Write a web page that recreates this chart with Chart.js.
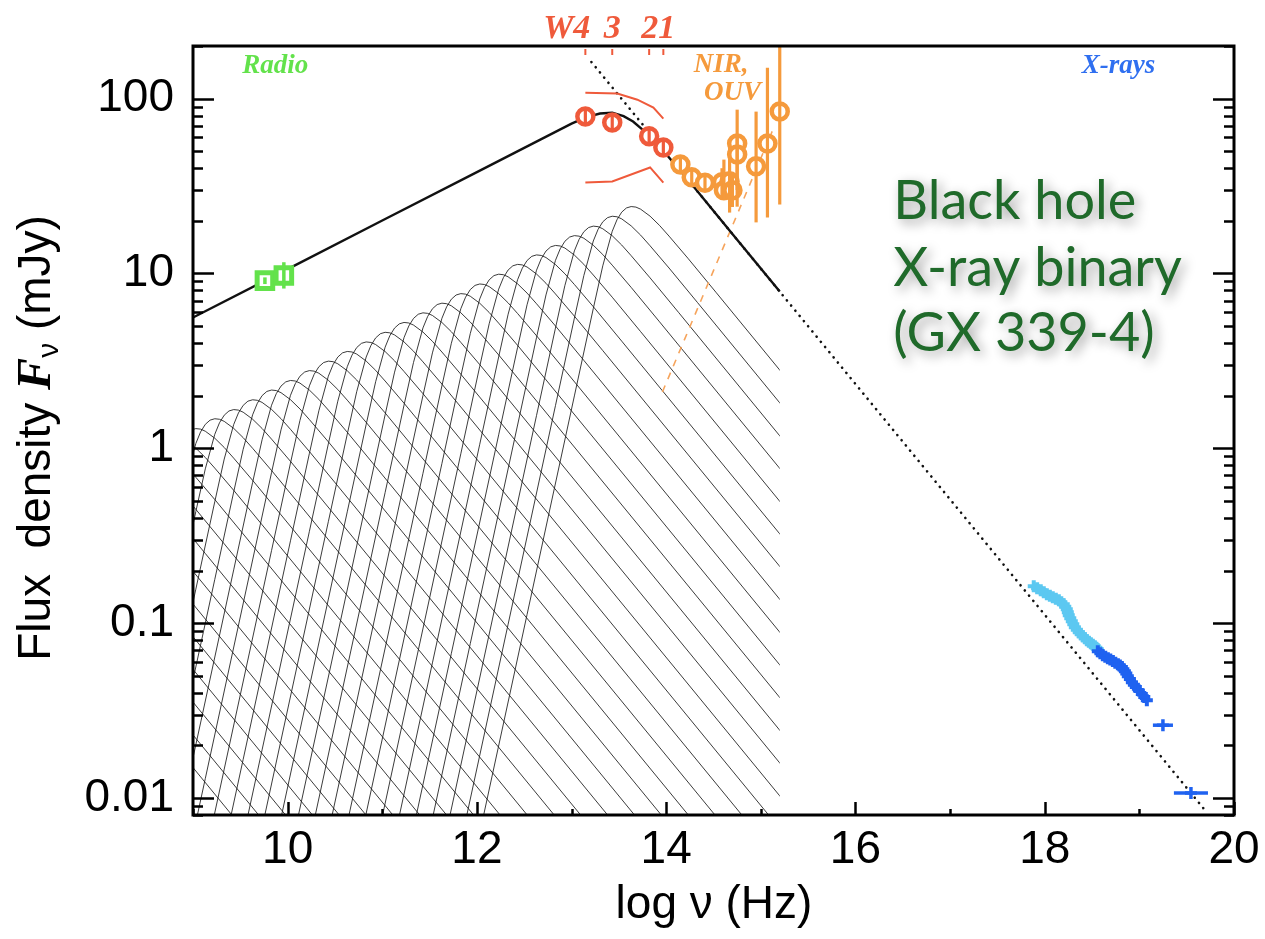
<!DOCTYPE html>
<html>
<head>
<meta charset="utf-8">
<title>GX 339-4 broadband spectrum</title>
<script src="https://cdn.jsdelivr.net/npm/chart.js@4.4.1/dist/chart.umd.min.js"></script>
<style>
  html, body { margin: 0; padding: 0; background: #ffffff; }
  canvas { display: block; }
</style>
</head>
<body>
<canvas id="sed" width="1265" height="939"></canvas>
<script>
// ---- Axis ranges (x: log frequency in Hz, y: flux density in mJy) ----
const X_MIN = 9, X_MAX = 20;
const Y_MIN = 0.008, Y_MAX = 200;
const xTickValues = [10, 12, 14, 16, 18, 20];
const xTickLabels = ['10', '12', '14', '16', '18', '20'];
const yTickValues = [0.01, 0.1, 1, 10, 100];
const yTickLabels = ['0.01', '0.1', '1', '10', '100'];

// ---- Total jet model (solid) ----
const jetTotalNu = [9.0, 10.0, 11.0, 12.0, 12.5, 13.0, 13.15, 13.3, 13.43, 13.55, 13.65, 13.75, 13.87, 14.01, 14.3, 14.7, 15.2];
const jetTotalF  = [5.6, 10.6, 20.1, 38.0, 52.3, 71.9, 78.2, 82.2, 83.0, 79.4, 74.0, 66.5, 58.5, 47.5, 30.9, 16.8, 7.9];

// ---- Optically thin power law extension (dotted) ----
const thinNu = [13.21, 19.68];
const thinF  = [162, 0.0087];

// ---- Orange dashed power law through the OIR ----
const oirSlopeNu = [13.96, 15.12];
const oirSlopeF  = [2.1, 65];

// ---- Individual jet segment spectra: peak positions ----
const jetSegmentPeakNu = [13.64, 13.44, 13.24, 13.04, 12.84, 12.64, 12.44, 12.24, 12.04, 11.84,
                          11.64, 11.44, 11.24, 11.04, 10.84, 10.64, 10.44, 10.24, 10.04, 9.84,
                          9.64, 9.44, 9.24, 9.04, 8.84, 8.64, 8.44, 8.24, 8.04, 7.84,
                          7.64, 7.44, 7.24, 7.04, 6.84];
const jetSegmentPeakF  = [24.2, 21.3, 18.7, 16.5, 14.5, 12.8, 11.3, 9.93, 8.73, 7.69,
                          6.78, 5.97, 5.26, 4.62, 4.07, 3.59, 3.16, 2.79, 2.45, 2.16,
                          1.90, 1.67, 1.48, 1.30, 1.14, 1.01, 0.887, 0.781, 0.687, 0.605,
                          0.533, 0.470, 0.414, 0.364, 0.321];
// Shape of one segment relative to its peak (offsets in dex)
const segmentShapeDLogNu = [-2.11, -1.11, -0.61, -0.41, -0.31, -0.21, -0.16, -0.11, -0.06, -0.01, 0.04, 0.09, 0.19, 0.29, 0.39, 0.59, 0.89, 8.59];
const segmentShapeDLogF  = [-4.834, -2.334, -1.084, -0.584, -0.34, -0.1425, -0.0765, -0.033, -0.009, -0.001, -0.004, -0.016, -0.056, -0.109, -0.170, -0.297, -0.494, -5.576];
const SEGMENT_CUTOFF_NU = 15.2;

// ---- Radio ----
const radioNu = [9.76, 9.96];
const radioF  = [9.1, 9.75];
const radioLo = [8.7, 8.2];
const radioHi = [9.5, 11.6];

// ---- WISE (W4, W3, W2, W1) ----
const wiseBandLabels = ['W4', '3', '2', '1'];
const wiseNu = [13.146, 13.43, 13.82, 13.97];
const wiseF  = [79, 73, 61, 52.5];
const wiseLo = [72, 66.5, 55.5, 47.8];
const wiseHi = [86.5, 80, 67, 57.5];
const wiseHighNu = [13.146, 13.484, 13.696, 13.865, 13.97];
const wiseHighF  = [108, 107, 98.6, 88.9, 76.9];
const wiseLowNu  = [13.146, 13.43, 13.83, 13.97];
const wiseLowF   = [33.1, 33.6, 40.4, 33.1];

// ---- NIR / optical / UV ----
const oirNu = [14.15, 14.27, 14.41, 14.59, 14.61, 14.67, 14.70, 14.75, 14.75, 14.95, 15.07, 15.20];
const oirF  = [42.0, 35.5, 33.0, 33.3, 29.9, 33.7, 29.9, 55.3, 47.9, 41.0, 55.3, 84.5];
const oirLo = [38.5, 32.5, 30.2, 27.5, 26.5, 22.3, 24.0, 24.1, 30.0, 19.6, 20.9, 24.8];
const oirHi = [45.8, 38.8, 36.0, 40.0, 44.8, 52.5, 37.0, 86.5, 60.0, 84.3, 150, 198];

// ---- X-rays ----
const xraySoftNu = [17.884, 17.92, 17.958, 17.99, 18.022, 18.054, 18.085, 18.117, 18.149, 18.175, 18.201, 18.217, 18.233, 18.244, 18.254, 18.270, 18.286, 18.302, 18.318, 18.339, 18.360, 18.381, 18.402, 18.424, 18.445, 18.466, 18.487, 18.508, 18.529, 18.545, 18.561];
const xraySoftF  = [0.1626, 0.1585, 0.1545, 0.1505, 0.1466, 0.1437, 0.1409, 0.1380, 0.1352, 0.1318, 0.1285, 0.1243, 0.1202, 0.1156, 0.1111, 0.1068, 0.1026, 0.0987, 0.0949, 0.0918, 0.0889, 0.0866, 0.0843, 0.0821, 0.0800, 0.0784, 0.0769, 0.0754, 0.0739, 0.0724, 0.0710];
const xrayHardNu = [18.561, 18.588, 18.614, 18.640, 18.667, 18.693, 18.720, 18.746, 18.773, 18.794, 18.815, 18.831, 18.847, 18.862, 18.878, 18.900, 18.921, 18.942, 18.963, 18.995, 19.026, 19.052, 19.079];
const xrayHardF  = [0.0692, 0.0674, 0.0656, 0.0643, 0.0631, 0.0619, 0.0607, 0.0595, 0.0583, 0.0572, 0.0561, 0.0546, 0.0532, 0.0515, 0.0498, 0.0479, 0.0460, 0.0445, 0.0431, 0.0412, 0.0393, 0.0378, 0.0363];
const xrayBinNu  = [19.249, 19.545];
const xrayBinF   = [0.0261, 0.0107];
const xrayBinNuLo = [19.143, 19.365];
const xrayBinNuHi = [19.355, 19.725];

// ---- Colours ----
const C_RADIO = '#63e24b';
const C_WISE = '#ef5a3b';
const C_OIR = '#f59a3c';
const C_SOFT = '#5cc8f1';
const C_HARD = '#1f62f0';
const C_TITLE = '#1f6a2a';

const pts = (xs, ys) => xs.map((x, i) => ({ x: x, y: ys[i] }));

const segmentDatasets = jetSegmentPeakNu.map((nu0, i) => ({
  type: 'line',
  data: segmentShapeDLogNu.map((d, j) => ({ x: nu0 + d, y: jetSegmentPeakF[i] * Math.pow(10, segmentShapeDLogF[j]) })),
  borderColor: 'rgba(25,25,25,0.85)',
  borderWidth: 1,
  pointRadius: 0,
  tension: 0,
  order: 100,
  cutoffNu: SEGMENT_CUTOFF_NU
}));

const datasets = [
  ...segmentDatasets,
  { type: 'line', data: pts(thinNu, thinF), borderColor: '#111', borderWidth: 2.6, borderDash: [0.1, 6.6],
    borderCapStyle: 'round', pointRadius: 0, order: 60 },
  { type: 'line', data: pts(jetTotalNu, jetTotalF), borderColor: '#111', borderWidth: 2.4, pointRadius: 0,
    tension: 0, order: 50 },
  { type: 'line', data: pts(oirSlopeNu, oirSlopeF), borderColor: '#f6a45c', borderWidth: 1.6, borderDash: [7, 7],
    pointRadius: 0, order: 55 },
  { type: 'line', data: pts(wiseHighNu, wiseHighF), borderColor: C_WISE, borderWidth: 2, pointRadius: 0, order: 40 },
  { type: 'line', data: pts(wiseLowNu, wiseLowF), borderColor: C_WISE, borderWidth: 2, pointRadius: 0, order: 40 },
  { data: pts(radioNu, radioF), pointStyle: 'rect', pointRadius: 11, borderWidth: 5, borderColor: C_RADIO,
    backgroundColor: '#ffffff', order: 10, errBar: { color: C_RADIO, width: 3.5, yLo: radioLo, yHi: radioHi } },
  { data: pts(oirNu, oirF), pointStyle: 'circle', pointRadius: 8, borderWidth: 4.5, borderColor: C_OIR,
    backgroundColor: '#ffffff', order: 12, errBar: { color: C_OIR, width: 3.2, yLo: oirLo, yHi: oirHi } },
  { data: pts(wiseNu, wiseF), pointStyle: 'circle', pointRadius: 8, borderWidth: 4.5, borderColor: C_WISE,
    backgroundColor: '#ffffff', order: 11, errBar: { color: C_WISE, width: 3.2, yLo: wiseLo, yHi: wiseHi } },
  { data: pts(xraySoftNu, xraySoftF), pointStyle: 'cross', pointRadius: 6, borderWidth: 4, borderColor: C_SOFT, order: 9 },
  { data: pts(xrayHardNu, xrayHardF), pointStyle: 'cross', pointRadius: 6, borderWidth: 4, borderColor: C_HARD, order: 8 },
  { data: pts(xrayBinNu, xrayBinF), pointStyle: 'cross', pointRadius: 6, borderWidth: 3.5, borderColor: C_HARD, order: 8,
    errBar: { color: C_HARD, width: 3.5, xLo: xrayBinNuLo, xHi: xrayBinNuHi } }
];

// Segment spectra stop at the cutoff frequency
const segmentCutoff = {
  id: 'segmentCutoff',
  beforeDatasetDraw(chart, args) {
    const ds = chart.data.datasets[args.index];
    if (ds.cutoffNu === undefined) return;
    const { ctx, chartArea: a } = chart;
    const xc = chart.scales.x.getPixelForValue(ds.cutoffNu);
    ctx.save();
    ctx.beginPath();
    ctx.rect(a.left, a.top, xc - a.left, a.bottom - a.top);
    ctx.clip();
  },
  afterDatasetDraw(chart, args) {
    const ds = chart.data.datasets[args.index];
    if (ds.cutoffNu === undefined) return;
    chart.ctx.restore();
  }
};

// Vertical / horizontal error bars
const errorBars = {
  id: 'errorBars',
  afterDatasetsDraw(chart) {
    const { ctx, chartArea: a } = chart;
    const x = chart.scales.x, y = chart.scales.y;
    ctx.save();
    ctx.beginPath();
    ctx.rect(a.left, a.top, a.right - a.left, a.bottom - a.top);
    ctx.clip();
    chart.data.datasets.forEach(ds => {
      const eb = ds.errBar;
      if (!eb) return;
      ctx.strokeStyle = eb.color;
      ctx.lineWidth = eb.width;
      ds.data.forEach((p, i) => {
        const px = x.getPixelForValue(p.x), py = y.getPixelForValue(p.y);
        if (eb.yLo) {
          ctx.beginPath();
          ctx.moveTo(px, y.getPixelForValue(eb.yLo[i]));
          ctx.lineTo(px, y.getPixelForValue(eb.yHi[i]));
          ctx.stroke();
        }
        if (eb.xLo) {
          ctx.beginPath();
          ctx.moveTo(x.getPixelForValue(eb.xLo[i]), py);
          ctx.lineTo(x.getPixelForValue(eb.xHi[i]), py);
          ctx.stroke();
        }
      });
    });
    ctx.restore();
  }
};

// Frame, inward tick marks, band marks and text
const Y_MINOR_MULT = [2, 3, 4, 5, 6, 7, 8, 9];
const decor = {
  id: 'decor',
  afterDraw(chart) {
    const { ctx, chartArea: a } = chart;
    const x = chart.scales.x, y = chart.scales.y;
    ctx.save();

    // frame
    ctx.strokeStyle = '#000';
    ctx.lineWidth = 3;
    ctx.strokeRect(a.left, a.top, a.right - a.left, a.bottom - a.top);

    // y ticks, left and right
    ctx.lineWidth = 2.5;
    for (let e = -3; e <= 2; e++) {
      [1, ...Y_MINOR_MULT].forEach(m => {
        const v = m * Math.pow(10, e);
        if (v < Y_MIN || v > Y_MAX) return;
        const py = Math.round(y.getPixelForValue(v)) + 0.5;
        const len = m === 1 ? 21 : 10;
        ctx.beginPath();
        ctx.moveTo(a.left, py); ctx.lineTo(a.left + len, py);
        ctx.moveTo(a.right, py); ctx.lineTo(a.right - len, py);
        ctx.stroke();
      });
    }
    // x ticks, bottom
    for (let v = X_MIN; v <= X_MAX; v++) {
      const px = Math.round(x.getPixelForValue(v)) + 0.5;
      const len = v % 2 === 0 ? 13 : 6;
      ctx.beginPath();
      ctx.moveTo(px, a.bottom); ctx.lineTo(px, a.bottom - len);
      ctx.stroke();
    }

    // WISE band marks along the top axis
    ctx.strokeStyle = C_WISE;
    ctx.lineWidth = 2;
    wiseNu.forEach(nu => {
      const px = x.getPixelForValue(nu);
      ctx.beginPath();
      ctx.moveTo(px, a.top + 3); ctx.lineTo(px, a.top + 9);
      ctx.stroke();
    });
    ctx.fillStyle = C_WISE;
    ctx.font = 'italic bold 34px "Liberation Serif"';
    ctx.textBaseline = 'alphabetic';
    ctx.textAlign = 'right';
    ctx.fillText(wiseBandLabels[0], x.getPixelForValue(wiseNu[0]) + 5, a.top - 8);
    ctx.textAlign = 'center';
    ctx.fillText(wiseBandLabels[1], x.getPixelForValue(wiseNu[1]), a.top - 8);
    ctx.fillText(wiseBandLabels[2] + wiseBandLabels[3],
      (x.getPixelForValue(wiseNu[2]) + x.getPixelForValue(wiseNu[3])) / 2 + 2, a.top - 8);

    // band names inside the plot
    ctx.font = 'italic bold 27px "Liberation Serif"';
    ctx.textAlign = 'center';
    ctx.fillStyle = C_RADIO;
    ctx.fillText('Radio', x.getPixelForValue(9.87), y.getPixelForValue(140.8));
    ctx.fillStyle = '#2f6ff0';
    ctx.fillText('X-rays', x.getPixelForValue(18.78), y.getPixelForValue(140.8));
    ctx.fillStyle = C_OIR;
    ctx.fillText('NIR,', x.getPixelForValue(14.58), y.getPixelForValue(142));
    ctx.fillText('OUV', x.getPixelForValue(14.70), y.getPixelForValue(98.7));

    // source label
    ctx.save();
    ctx.font = '54px Lato';
    ctx.textAlign = 'left';
    ctx.fillStyle = C_TITLE;
    ctx.shadowColor = 'rgba(0,0,0,0.4)';
    ctx.shadowBlur = 12;
    ctx.shadowOffsetX = 4;
    ctx.shadowOffsetY = 4;
    const tx = x.getPixelForValue(16.40);
    ctx.fillText('Black hole', tx, y.getPixelForValue(20.4));
    ctx.fillText('X-ray binary', tx, y.getPixelForValue(8.43));
    ctx.fillText('(GX 339-4)', tx, y.getPixelForValue(3.58));
    ctx.restore();

    // x axis title
    ctx.fillStyle = '#000';
    ctx.font = '46px "Liberation Sans"';
    ctx.textAlign = 'center';
    ctx.textBaseline = 'middle';
    ctx.fillText('log \u03bd (Hz)', (a.left + a.right) / 2 + 0.5, 905);

    // y axis title (rotated, mixed fonts)
    const parts = [
      { text: 'Flux  density ', font: '46px "Liberation Sans"', dy: 0 },
      { text: 'F', font: 'italic bold 48px "Liberation Serif"', dy: 0 },
      { text: '\u03bd', font: '30px "Liberation Sans"', dy: 8 },
      { text: ' (mJy)', font: '46px "Liberation Sans"', dy: 0 }
    ];
    let total = 0;
    parts.forEach(p => { ctx.font = p.font; p.w = ctx.measureText(p.text).width; total += p.w; });
    ctx.translate(50, 438);
    ctx.rotate(-Math.PI / 2);
    ctx.textAlign = 'left';
    ctx.textBaseline = 'alphabetic';
    let cx = -total / 2;
    parts.forEach(p => { ctx.font = p.font; ctx.fillText(p.text, cx, p.dy); cx += p.w; });

    ctx.restore();
  }
};

const tickFont = { family: '"Liberation Sans"', size: 46, lineHeight: 1 };

new Chart(document.getElementById('sed'), {
  type: 'scatter',
  data: { datasets: datasets },
  options: {
    responsive: false,
    animation: false,
    devicePixelRatio: 1,
    layout: { padding: { left: 0, right: 31, top: 46, bottom: 0 } },
    plugins: { legend: { display: false }, tooltip: { enabled: false } },
    scales: {
      x: {
        type: 'linear', min: X_MIN, max: X_MAX,
        grid: { display: false, drawTicks: false }, border: { display: false },
        afterBuildTicks: s => { s.ticks = xTickValues.map(v => ({ value: v })); },
        afterFit: s => { s.height = 124; s.paddingLeft = 0; s.paddingRight = 0; },
        ticks: { autoSkip: false, maxRotation: 0, padding: 12, color: '#000', font: tickFont,
                 callback: (v, i) => xTickLabels[i] }
      },
      y: {
        type: 'logarithmic', min: Y_MIN, max: Y_MAX,
        grid: { display: false, drawTicks: false }, border: { display: false },
        afterBuildTicks: s => { s.ticks = yTickValues.map(v => ({ value: v })); },
        afterFit: s => { s.width = 193; s.paddingTop = 0; s.paddingBottom = 0; },
        ticks: { autoSkip: false, padding: 19, color: '#000', font: tickFont,
                 callback: (v, i) => yTickLabels[i] }
      }
    }
  },
  plugins: [segmentCutoff, errorBars, decor]
});
</script>
</body>
</html>
